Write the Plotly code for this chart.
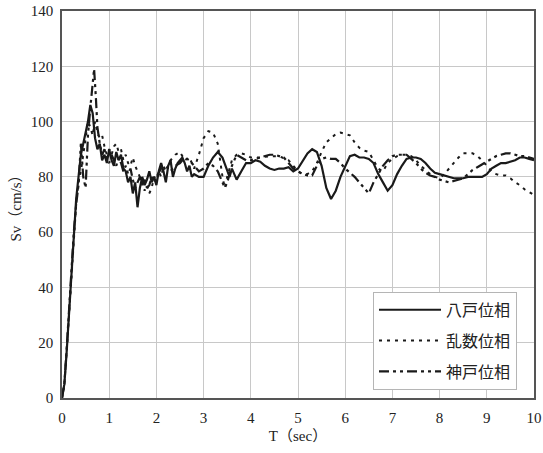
import plotly.graph_objects as go

# ---- data ----
T_hachinohe = [0, 0.05, 0.1, 0.15, 0.2, 0.25, 0.3, 0.35, 0.4, 0.45, 0.5, 0.55, 0.6, 0.65, 0.7, 0.75, 0.8, 0.85, 0.9, 0.95,
               1.0, 1.05, 1.1, 1.15, 1.2, 1.25, 1.3, 1.35, 1.4, 1.45, 1.5, 1.55, 1.6, 1.65, 1.7, 1.75, 1.8, 1.85, 1.9, 1.95,
               2.0, 2.05, 2.1, 2.15, 2.2, 2.25, 2.3, 2.35, 2.4, 2.45, 2.5, 2.55, 2.6, 2.65, 2.7, 2.75, 2.8, 2.9,
               3.0, 3.1, 3.2, 3.3, 3.4, 3.5, 3.55, 3.6, 3.7, 3.8, 3.9, 4.0, 4.1, 4.2, 4.3, 4.4, 4.5, 4.6, 4.7, 4.8, 4.9,
               5.0, 5.1, 5.2, 5.3, 5.4, 5.5, 5.6, 5.7, 5.8, 5.9, 6.0, 6.1, 6.2, 6.3, 6.4, 6.5, 6.6, 6.7, 6.8, 6.9,
               7.0, 7.1, 7.2, 7.3, 7.4, 7.5, 7.6, 7.7, 7.8, 7.9, 8.0, 8.1, 8.2, 8.3, 8.4, 8.5, 8.6, 8.7, 8.8, 8.9,
               9.0, 9.1, 9.2, 9.3, 9.4, 9.5, 9.6, 9.7, 9.8, 9.9, 10.0]
Sv_hachinohe = [0, 5, 17, 31, 46, 60, 72, 80, 88, 92, 96, 100, 106, 103, 94, 90, 92, 86, 88, 85,
                90, 86, 84, 89, 86, 88, 83, 82, 78, 80, 74, 78, 69, 76, 80, 77, 79, 82, 78, 80,
                77, 82, 85, 82, 78, 84, 86, 80, 83, 85, 86, 87, 85, 82, 84, 80, 81, 80,
                80, 84, 87, 89, 87, 82, 80, 83, 79, 82, 85, 85, 86, 85.5, 84, 83, 82.5, 83, 83, 83.5, 82,
                83, 86, 88.5, 90, 89, 84, 76, 72, 75, 80, 84, 87.5, 88, 87, 87, 86.5, 85, 81, 78, 75,
                77, 81, 84, 86.5, 87, 87, 86.5, 85, 83, 81.5, 81, 80.5, 80, 79.5, 79.5, 79.5, 80, 80, 80, 80,
                81, 83, 84, 85, 85, 85.5, 86, 87, 87, 86.5, 86]

T_random = [0, 0.05, 0.1, 0.15, 0.2, 0.25, 0.3, 0.35, 0.4, 0.45, 0.5, 0.55, 0.6, 0.65, 0.7, 0.75, 0.8, 0.85, 0.9, 0.95,
            1.0, 1.05, 1.1, 1.15, 1.2, 1.25, 1.3, 1.35, 1.4, 1.45, 1.5, 1.55, 1.6, 1.65, 1.7, 1.75, 1.8, 1.85, 1.9, 1.95,
            2.0, 2.05, 2.1, 2.15, 2.2, 2.3, 2.4, 2.5, 2.6, 2.7, 2.8, 2.9,
            3.0, 3.1, 3.2, 3.3, 3.35, 3.4, 3.45, 3.5, 3.6, 3.7, 3.8, 3.9, 4.0, 4.2, 4.4, 4.6, 4.8, 4.9,
            5.0, 5.1, 5.2, 5.3, 5.4, 5.5, 5.6, 5.7, 5.8, 5.9, 6.0, 6.1, 6.2, 6.3, 6.4, 6.5, 6.6, 6.7, 6.8, 6.9,
            7.0, 7.1, 7.2, 7.3, 7.4, 7.5, 7.6, 7.7, 7.8, 7.9, 8.0, 8.1, 8.2, 8.3, 8.4, 8.5, 8.6, 8.7, 8.8, 8.9,
            9.0, 9.1, 9.2, 9.3, 9.4, 9.5, 9.6, 9.7, 9.8, 9.9, 10.0]
Sv_random = [0, 5, 17, 31, 45, 58, 70, 78, 82, 88, 95, 100, 98, 95, 100, 96, 94, 95, 91, 88,
             90, 88, 91, 92, 89, 90, 86, 88, 85, 84, 87, 84, 82, 80, 78, 75, 77, 74, 76, 80,
             79, 82, 80, 84, 82, 86, 88, 89, 86, 87, 83, 88,
             94, 96.5, 96, 92, 86, 80, 76, 80, 86, 88, 88.5, 88, 87, 87, 87.5, 87.5, 86, 84,
             82, 81, 81, 82, 85, 89, 92.5, 94, 95.5, 96, 95.5, 95, 92.5, 90.5, 89.5, 89, 86, 83, 82, 85,
             86.5, 87.5, 88, 88, 87.5, 86, 84, 82.5, 81, 80, 79.5, 81, 83, 85, 87, 88.5, 88.5, 88.5, 87.5, 86,
             84, 82, 81, 80.5, 80.5, 79.5, 78, 77, 75.5, 74.5, 73.5]

T_kobe = [0, 0.05, 0.1, 0.15, 0.2, 0.25, 0.3, 0.35, 0.4, 0.45, 0.5, 0.55, 0.6, 0.65, 0.68, 0.72, 0.75, 0.8, 0.85, 0.9, 0.95,
          1.0, 1.05, 1.1, 1.15, 1.2, 1.25, 1.3, 1.35, 1.4, 1.45, 1.5, 1.55, 1.6, 1.65, 1.7, 1.75, 1.8, 1.85, 1.9, 1.95,
          2.0, 2.1, 2.2, 2.3, 2.4, 2.5, 2.6, 2.7, 2.8, 2.9,
          3.0, 3.1, 3.2, 3.3, 3.4, 3.45, 3.5, 3.6, 3.7, 3.8, 3.9, 4.0, 4.1, 4.2, 4.3, 4.4, 4.5, 4.6, 4.7, 4.8, 4.9,
          5.0, 5.1, 5.2, 5.3, 5.4, 5.5, 5.6, 5.7, 5.8, 5.9, 6.0, 6.1, 6.2, 6.3, 6.4, 6.5, 6.6, 6.7, 6.8, 6.9,
          7.0, 7.1, 7.2, 7.3, 7.4, 7.5, 7.6, 7.7, 7.8, 7.9, 8.0, 8.1, 8.2, 8.3, 8.4, 8.5, 8.6, 8.7, 8.8, 8.9,
          9.0, 9.1, 9.2, 9.3, 9.4, 9.5, 9.6, 9.7, 9.8, 9.9, 10.0]
Sv_kobe = [0, 5, 18, 32, 47, 60, 70, 77, 92, 80, 76, 95, 105, 113, 119, 108, 98, 92, 88, 90, 86,
           85, 88, 86, 84, 87, 85, 82, 84, 81, 83, 79, 76, 78, 80, 77, 79, 76, 77, 80, 78,
           80, 83, 84, 82, 84, 85, 87, 86, 84, 82,
           83, 85, 84, 82, 78, 76, 78, 84, 88, 87, 86, 86, 86.5, 87, 87.5, 88, 88, 87.5, 87, 85, 83,
           82, 81, 80.5, 80.5, 84, 86.5, 87, 86.5, 86.5, 85, 83, 81.5, 80, 78, 76, 74, 78, 81, 84, 86,
           87.5, 88, 88, 88, 86.5, 85, 83, 81.5, 80.5, 80, 79, 78.5, 78, 78.5, 79, 79.5, 81, 82.5, 83.5, 84.5,
           85.5, 86.5, 87.5, 88, 88.5, 88.5, 88, 87.5, 87.5, 87, 86.5]

series_names = ["八戸位相", "乱数位相", "神戸位相"]
x_ticks = [0, 1, 2, 3, 4, 5, 6, 7, 8, 9, 10]
y_ticks = [0, 20, 40, 60, 80, 100, 120, 140]

LINE = "#1a1a1a"
SERIF = "Liberation Serif, Noto Sans CJK JP, serif"

fig = go.Figure()
fig.add_trace(go.Scatter(x=T_hachinohe, y=Sv_hachinohe, mode="lines", name=series_names[0],
                         legendgroup="a", line=dict(color=LINE, width=2.2, dash="solid")))
fig.add_trace(go.Scatter(x=T_random, y=Sv_random, mode="lines", name=series_names[1],
                         legendgroup="b", line=dict(color=LINE, width=2, dash="3px,5px")))
fig.add_trace(go.Scatter(x=T_kobe, y=Sv_kobe, mode="lines", name=series_names[2],
                         legendgroup="c", line=dict(color=LINE, width=2.2, dash="10px,4px,3px,4px,3px,4px")))

axis_common = dict(showgrid=True, gridcolor="#c8c8c8", gridwidth=1, zeroline=False,
                   showline=True, linecolor="#555555", linewidth=1.5, mirror=True,
                   ticks="", automargin=False,
                   tickfont=dict(family=SERIF, size=15, color="#222"))

fig.update_xaxes(range=[0, 10], tickvals=x_ticks, ticktext=[str(v) for v in x_ticks],
                 ticklabelstandoff=5,
                 title=dict(text="T（sec）", font=dict(family=SERIF, size=15, color="#222"), standoff=6),
                 **axis_common)
fig.update_yaxes(range=[0, 140], tickvals=y_ticks, ticktext=[str(v) for v in y_ticks],
                 ticklabelstandoff=4,
                 title=dict(text="Sv（cm/s）", font=dict(family=SERIF, size=15, color="#222"), standoff=6),
                 **axis_common)

fig.update_layout(
    width=543, height=453,
    margin=dict(l=62, r=9, t=11, b=55),
    plot_bgcolor="white", paper_bgcolor="white",
    legend=dict(x=0.964, y=0.021, xanchor="right", yanchor="bottom",
                bgcolor="white", bordercolor="#b5b5b5", borderwidth=1,
                font=dict(family="Noto Sans CJK JP", size=16, color="#222"),
                itemwidth=62, tracegroupgap=7),
)

fig.write_html("out.html", config={"displayModeBar": False},
               post_script="document.body.style.margin='0';document.body.style.padding='0';")
